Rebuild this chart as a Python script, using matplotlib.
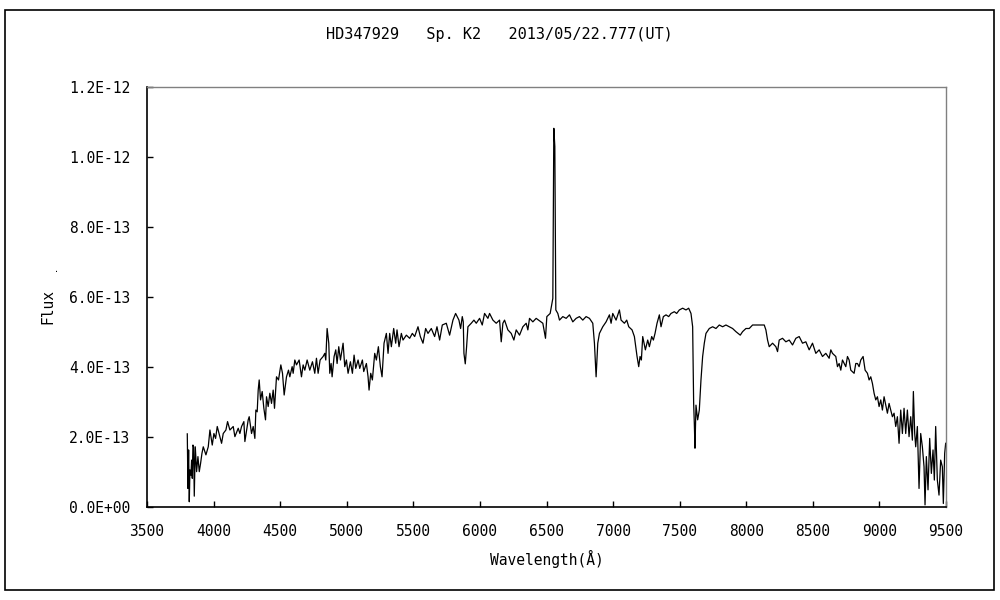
import matplotlib
matplotlib.use("Agg")
import matplotlib.pyplot as plt
from matplotlib.patches import Rectangle

# Wavelength (Angstrom) and flux (units of 1e-13)
wavelength = [
    3802.5, 3807.5, 3812.5, 3817.5, 3822.5, 3830, 3835, 3840, 3845, 3850, 3855, 3862.5,
    3872.5, 3882.5, 3892.5, 3902.5, 3912.5, 3922.5, 3942.5, 3960, 3972.5, 3990, 4002.5,
    4015, 4027.5, 4047.5, 4060, 4072.5, 4092.5, 4105, 4122.5, 4147.5, 4160, 4185, 4197.5,
    4210, 4227.5, 4235, 4260, 4267.5, 4285, 4297.5, 4310, 4317.5, 4327.5, 4335, 4342.5,
    4352.5, 4365, 4377.5, 4390, 4397.5, 4410, 4422.5, 4435, 4447.5, 4457.5, 4472.5, 4487.5,
    4505, 4517.5, 4530, 4547.5, 4562.5, 4572.5, 4590, 4597.5, 4610, 4622.5, 4642.5, 4660,
    4672.5, 4685, 4702.5, 4722.5, 4742.5, 4760, 4772.5, 4785, 4800, 4822.5, 4835, 4842.5,
    4852.5, 4865, 4872.5, 4882.5, 4890, 4905, 4917.5, 4927.5, 4940, 4952.5, 4972.5, 4985,
    4997.5, 5010, 5027.5, 5042.5, 5055, 5067.5, 5085, 5097.5, 5117.5, 5127.5, 5147.5, 5160,
    5167.5, 5180, 5192.5, 5210, 5222.5, 5237.5, 5252.5, 5265, 5280, 5297.5, 5310, 5322.5,
    5335, 5352.5, 5367.5, 5377.5, 5392.5, 5410, 5422.5, 5447.5, 5472.5, 5492.5, 5510, 5535,
    5552.5, 5572.5, 5592.5, 5610, 5635, 5660, 5677.5, 5697.5, 5717.5, 5747.5, 5772.5, 5797.5,
    5817.5, 5842.5, 5855, 5867.5, 5875, 5880, 5890, 5900, 5910, 5935, 5955, 5972.5, 5997.5,
    6017.5, 6035, 6060, 6072.5, 6097.5, 6122.5, 6147.5, 6160, 6172.5, 6185, 6210, 6235,
    6255, 6272.5, 6297.5, 6322.5, 6347.5, 6360, 6372.5, 6397.5, 6422.5, 6472.5, 6492.5,
    6502.5, 6527.5, 6547.5, 6555, 6562.5, 6570, 6585, 6597.5, 6622.5, 6647.5, 6672.5,
    6697.5, 6722.5, 6747.5, 6772.5, 6797.5, 6822.5, 6847.5, 6860, 6872.5, 6885, 6897.5,
    6922.5, 6947.5, 6972.5, 6985, 6997.5, 7022.5, 7047.5, 7060, 7085, 7102.5, 7117.5,
    7142.5, 7160, 7180, 7192.5, 7202.5, 7212.5, 7222.5, 7242.5, 7260, 7272.5, 7290, 7302.5,
    7315, 7330, 7347.5, 7360, 7377.5, 7397.5, 7417.5, 7435, 7460, 7477.5, 7497.5, 7522.5,
    7547.5, 7567.5, 7585, 7597.5, 7605, 7610, 7615, 7622.5, 7635, 7647.5, 7660, 7672.5,
    7685, 7697.5, 7722.5, 7747.5, 7772.5, 7797.5, 7822.5, 7847.5, 7872.5, 7897.5, 7922.5,
    7955, 7972.5, 7997.5, 8022.5, 8047.5, 8072.5, 8097.5, 8135, 8147.5, 8160, 8172.5,
    8197.5, 8222.5, 8235, 8247.5, 8272.5, 8297.5, 8322.5, 8347.5, 8372.5, 8397.5, 8422.5,
    8447.5, 8472.5, 8497.5, 8522.5, 8547.5, 8572.5, 8597.5, 8622.5, 8635, 8647.5, 8672.5,
    8685, 8697.5, 8710, 8722.5, 8747.5, 8760, 8772.5, 8785, 8810, 8822.5, 8835, 8847.5,
    8860, 8877.5, 8892.5, 8910, 8922.5, 8935, 8947.5, 8960, 8972.5, 8985, 8997.5, 9010,
    9022.5, 9035, 9047.5, 9060, 9072.5, 9085, 9097.5, 9110, 9122.5, 9135, 9147.5, 9160,
    9172.5, 9185, 9197.5, 9210, 9222.5, 9235, 9247.5, 9255, 9265, 9272.5, 9285, 9297.5,
    9310, 9322.5, 9335, 9342.5, 9352.5, 9365, 9377.5, 9390, 9402.5, 9412.5, 9422.5, 9435,
    9447.5, 9460, 9472.5, 9480, 9490, 9497.5,
]
flux_e13 = [
    2.09, 0.53, 1.63, 0.15, 1.06, 0.91, 1.34, 0.82, 1.77, 1.72, 0.31, 1.72,
    1.01, 1.44, 1.01, 1.25, 1.53, 1.72, 1.49, 1.72, 2.20, 1.77, 2.10,
    1.96, 2.30, 2.01, 1.82, 2.10, 2.20, 2.44, 2.20, 2.30, 2.01, 2.25, 2.10,
    2.30, 2.44, 1.87, 2.49, 2.58, 2.10, 2.30, 1.96, 2.77, 2.72, 3.34, 3.63,
    3.06, 3.30, 2.82, 2.49, 3.15, 2.87, 3.25, 2.96, 3.34, 2.82, 3.72, 3.63,
    4.06, 3.82, 3.20, 3.72, 3.91, 3.72, 4.01, 3.82, 4.20, 4.06, 4.20, 3.72,
    4.06, 3.91, 4.20, 3.91, 4.15, 3.82, 4.25, 3.82, 4.20, 4.30, 4.39, 4.20,
    5.10, 4.68, 3.82, 4.10, 3.72, 4.30, 4.49, 4.10, 4.58, 4.20, 4.68, 4.01,
    4.20, 3.82, 4.15, 3.82, 4.34, 3.96, 4.20, 3.96, 4.20, 3.87, 4.10, 3.72,
    3.34, 3.82, 3.63, 4.39, 4.20, 4.58, 4.01, 3.72, 4.68, 4.96, 4.39, 4.96,
    4.58, 5.10, 4.68, 5.06, 4.58, 4.96, 4.77, 4.91, 4.82, 4.96, 4.87, 5.15,
    4.87, 4.68, 5.10, 4.96, 5.10, 4.87, 5.15, 4.77, 5.20, 5.25, 4.91, 5.34,
    5.53, 5.34, 5.10, 5.44, 5.29, 4.39, 4.09, 4.58, 5.15, 5.25, 5.34, 5.25, 5.39,
    5.20, 5.53, 5.39, 5.53, 5.34, 5.25, 5.34, 4.72, 5.25, 5.34, 5.06, 4.96,
    4.77, 5.06, 4.91, 5.15, 5.25, 5.06, 5.39, 5.29, 5.39, 5.25, 4.82,
    5.44, 5.53, 5.96, 10.82, 10.30, 5.63, 5.53, 5.34, 5.44, 5.39, 5.49,
    5.29, 5.39, 5.44, 5.34, 5.44, 5.39, 5.25, 4.68, 3.72, 4.68, 4.96,
    5.15, 5.29, 5.49, 5.25, 5.53, 5.34, 5.63, 5.34, 5.25, 5.34, 5.15,
    5.06, 4.87, 4.30, 4.01, 4.30, 4.20, 4.87, 4.49, 4.77, 4.58, 4.87, 4.77,
    4.96, 5.25, 5.49, 5.15, 5.44, 5.49, 5.44, 5.53, 5.58, 5.53, 5.63, 5.68,
    5.63, 5.68, 5.53, 5.15, 2.96, 2.39, 1.68, 2.91, 2.49, 2.77, 3.63, 4.30,
    4.68, 4.96, 5.10, 5.15, 5.10, 5.20, 5.15, 5.20, 5.15, 5.10, 5.01,
    4.91, 5.01, 5.10, 5.10, 5.20, 5.20, 5.20, 5.20, 5.06, 4.77, 4.58,
    4.68, 4.58, 4.44, 4.77, 4.82, 4.72, 4.77, 4.63, 4.82, 4.87, 4.68,
    4.72, 4.49, 4.68, 4.39, 4.49, 4.30, 4.39, 4.25, 4.49, 4.39, 4.30,
    4.01, 4.10, 3.91, 4.20, 4.01, 4.30, 4.20, 3.91, 3.82, 4.10, 4.10, 4.01,
    4.20, 4.30, 3.91, 3.82, 3.63, 3.72, 3.53, 3.25, 3.06, 3.15, 2.87, 3.06,
    2.77, 3.15, 2.91, 2.68, 2.96, 2.77, 2.58, 2.68, 2.30, 2.58, 1.82, 2.77,
    2.10, 2.82, 2.10, 2.77, 2.01, 2.58, 1.91, 3.30, 2.10, 1.72, 2.30, 0.53,
    2.10, 1.72, 1.15, 0.06, 1.44, 0.49, 1.96, 0.96, 1.63, 0.77, 2.30, 0.77,
    0.34, 1.34, 1.15, 0.10, 1.53, 1.82,
]

x_ticks = [3500, 4000, 4500, 5000, 5500, 6000, 6500, 7000, 7500, 8000, 8500, 9000, 9500]
y_ticks = [0.0, 2.0e-13, 4.0e-13, 6.0e-13, 8.0e-13, 1.0e-12, 1.2e-12]
y_tick_labels = ["0.0E+00", "2.0E-13", "4.0E-13", "6.0E-13", "8.0E-13", "1.0E-12", "1.2E-12"]
title_text = "HD347929   Sp. K2   2013/05/22.777(UT)"

FONT = ["DejaVu Sans Mono", "DejaVu Sans"]
plt.rcParams["font.family"] = FONT

fig = plt.figure(figsize=(10, 6), dpi=100)
fig.patch.set_facecolor("white")
fig.add_artist(Rectangle((0.005, 0.016), 0.989, 0.968, transform=fig.transFigure,
                         fill=False, edgecolor="black", linewidth=1.2))

ax = fig.add_axes([0.147, 0.155, 0.799, 0.70])
flux = [v * 1e-13 for v in flux_e13]
ax.plot(wavelength, flux, color="black", linewidth=0.9)

ax.set_xlim(3500, 9500)
ax.set_ylim(0, 1.2e-12)
ax.set_xticks(x_ticks)
ax.set_xticklabels([str(t) for t in x_ticks])
ax.set_yticks(y_ticks)
ax.set_yticklabels(y_tick_labels)
ax.tick_params(axis="both", direction="in", length=4, width=1, colors="black",
               labelsize=10.5, top=False, right=False)
ax.tick_params(axis="x", pad=12)
ax.tick_params(axis="y", pad=12)

for side in ("left", "bottom"):
    ax.spines[side].set_color("black")
    ax.spines[side].set_linewidth(1.2)
for side in ("top", "right"):
    ax.spines[side].set_color("#808080")
    ax.spines[side].set_linewidth(1.0)

ax.set_xlabel("Wavelength(Å)", fontsize=10.5, labelpad=8)
fig.text(0.048, 1 - 307 / 600, "Flux", rotation=90, ha="center", va="center", fontsize=10.5)
fig.text(0.057, 1 - 270 / 600, ".", ha="center", va="center", fontsize=6)
fig.text(0.499, 1 - 35 / 600, title_text, ha="center", va="center", fontsize=11)

fig.savefig("out.png", dpi=100)
